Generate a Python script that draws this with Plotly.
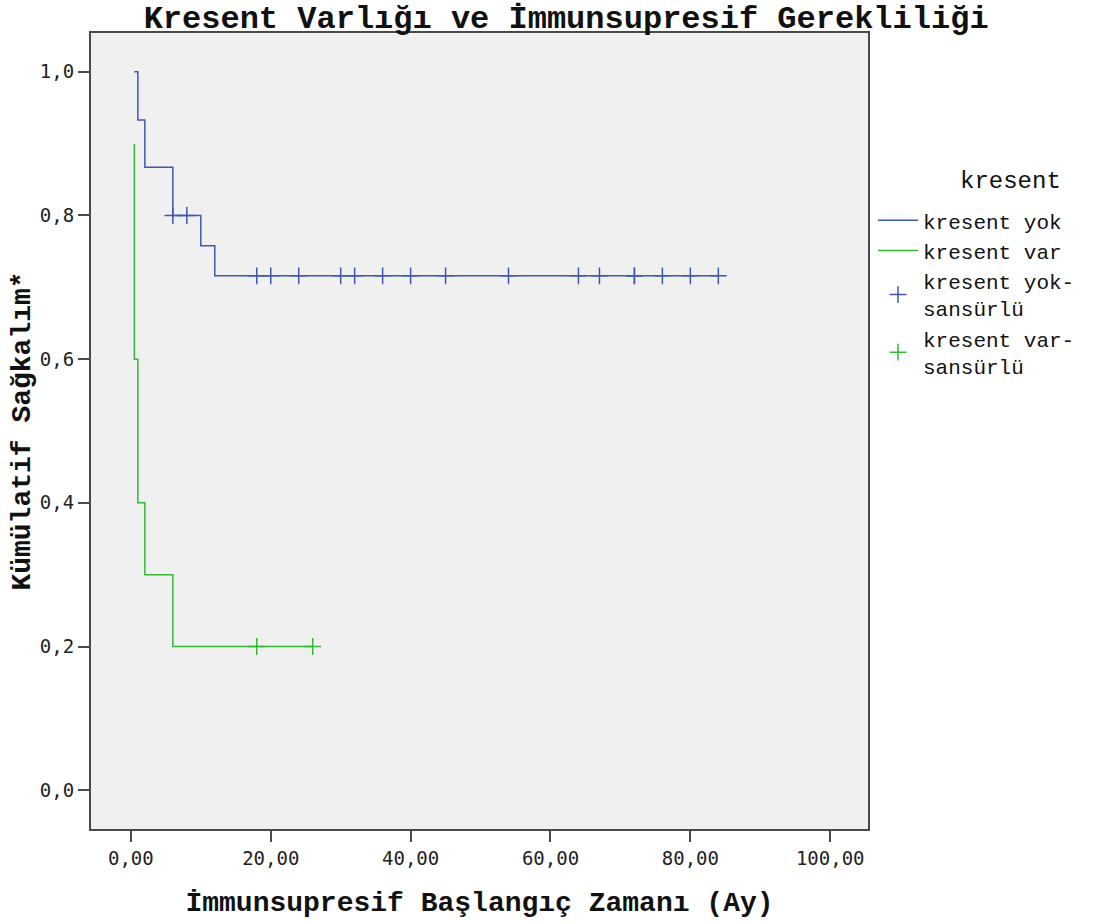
import plotly.graph_objects as go

# --- data ---
yok_time = [0.5, 1.0, 2.0, 6.0, 10.0, 12.0, 84.0]
yok_surv = [1.0, 0.933, 0.867, 0.8, 0.758, 0.716, 0.716]
var_time = [0.5, 0.5, 1.0, 2.0, 6.0, 26.0]
var_surv = [0.9, 0.6, 0.4, 0.3, 0.2, 0.2]
yok_cens_time = [6, 8, 18, 20, 24, 30, 32, 36, 40, 45, 54, 64, 67, 72, 72, 76, 80, 84]
yok_cens_surv = [0.8, 0.8] + [0.716] * 16
var_cens_time = [18, 26]
var_cens_surv = [0.2, 0.2]

x_ticks = [0, 20, 40, 60, 80, 100]
y_ticks = [0.0, 0.2, 0.4, 0.6, 0.8, 1.0]

BLUE = "#3e58ac"
GREEN = "#36b836"
FONT = "Liberation Mono"

fig = go.Figure()
fig.add_trace(go.Scatter(x=yok_time, y=yok_surv, mode="lines", line_shape="hv",
                         line=dict(color=BLUE, width=1.5), name="kresent yok"))
fig.add_trace(go.Scatter(x=var_time, y=var_surv, mode="lines", line_shape="hv",
                         line=dict(color=GREEN, width=1.5), name="kresent var"))
fig.add_trace(go.Scatter(x=yok_cens_time, y=yok_cens_surv, mode="markers",
                         marker=dict(symbol="cross-thin", size=12, line=dict(color=BLUE, width=1.5)),
                         name="kresent yok-<br>sansürlü"))
fig.add_trace(go.Scatter(x=var_cens_time, y=var_cens_surv, mode="markers",
                         marker=dict(symbol="cross-thin", size=12, line=dict(color=GREEN, width=1.5)),
                         name="kresent var-<br>sansürlü"))

axis_common = dict(showgrid=False, zeroline=False, showline=True, mirror=True,
                   linecolor="#4a4a4a", linewidth=2, ticks="outside", ticklen=11,
                   tickcolor="#4a4a4a", tickwidth=2, automargin=False,
                   tickfont=dict(family="DejaVu Sans Mono", size=19, color="#222"))

fig.update_layout(
    width=1095, height=924,
    margin=dict(l=91, r=227, t=33, b=95),
    paper_bgcolor="white", plot_bgcolor="#f0f0f0",
    separators=",.",
    font=dict(family=FONT, color="#111"),
    title=dict(text="<b>Kresent Varlığı ve İmmunsupresif Gerekliliği</b>",
               x=0.517, xref="container", xanchor="center",
               y=1 - 17 / 924, yref="container", yanchor="middle",
               font=dict(family=FONT, size=32, color="#111")),
    xaxis=dict(range=[-5.7, 105.4], tickvals=x_ticks, tickformat=".2f",
               title=dict(text="<b>İmmunsupresif Başlangıç Zamanı (Ay)</b>",
                          font=dict(family=FONT, size=28, color="#111"), standoff=24),
               **axis_common),
    yaxis=dict(range=[-0.054, 1.054], tickvals=y_ticks, tickformat=".1f",
               title=dict(text="<b>Kümülatif Sağkalım*</b>",
                          font=dict(family=FONT, size=28, color="#111"), standoff=1),
               **axis_common),
    legend=dict(x=1.0 + 5 / 777, xanchor="left", y=0.79, yanchor="top",
                bgcolor="rgba(0,0,0,0)", font=dict(family=FONT, size=21, color="#111"),
                tracegroupgap=4, itemwidth=40),
    annotations=[dict(text="kresent", xref="paper", yref="paper",
                      x=1 + (1010 - 868) / 777, y=(829 - 181) / 796,
                      xanchor="center", yanchor="middle", showarrow=False,
                      font=dict(family=FONT, size=24, color="#111"))],
)

fig.write_html("out.html")
